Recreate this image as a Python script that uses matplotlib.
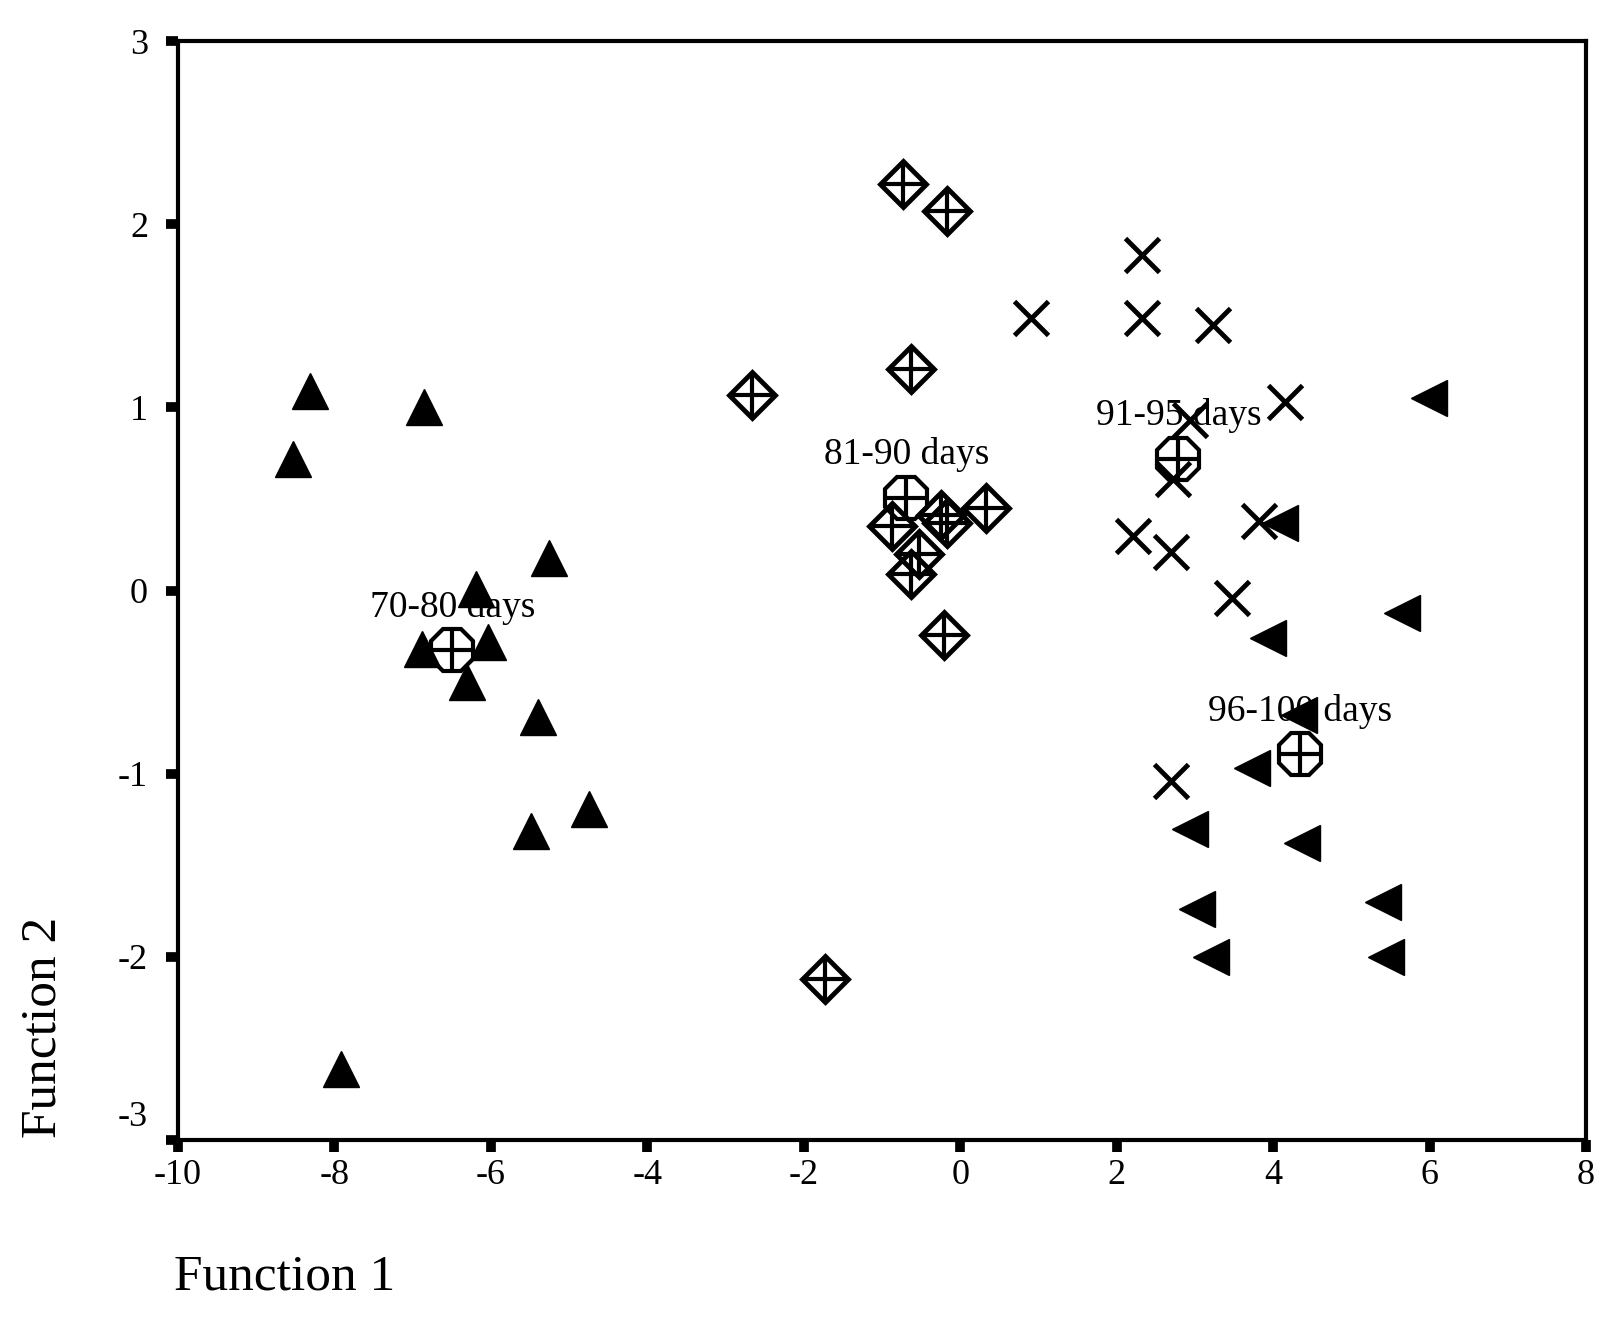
import matplotlib
matplotlib.use('Agg')
import matplotlib.pyplot as plt
import numpy as np
from matplotlib.transforms import ScaledTranslation

plt.rcParams['font.family'] = ['Liberation Serif', 'DejaVu Serif']

# Discriminant scores (Function 1, Function 2)
g70_x = [-8.31, -8.53, -6.85, -5.26, -6.19, -6.88, -6.03, -6.30, -5.40, -5.49, -4.74, -7.91]
g70_y = [1.09, 0.72, 1.00, 0.18, 0.01, -0.32, -0.28, -0.50, -0.69, -1.31, -1.19, -2.61]

g81_x = [-0.73, -0.17, -0.63, -2.66, 0.33, -0.25, -0.17, -0.87, -0.53, -0.63, -0.21, -1.73]
g81_y = [2.22, 2.07, 1.21, 1.07, 0.45, 0.41, 0.37, 0.35, 0.20, 0.09, -0.24, -2.12]

g91_x = [2.32, 2.32, 3.23, 4.15, 2.94, 2.72, 3.82, 2.21, 2.69, 3.47, 2.70, 0.91]
g91_y = [1.83, 1.49, 1.45, 1.03, 0.93, 0.61, 0.38, 0.30, 0.21, -0.04, -1.04, 1.49]

g96_x = [5.65, 3.93, 4.33, 3.73, 2.94, 4.37, 3.03, 5.40, 3.21, 5.44, 5.99, 4.09]
g96_y = [-0.12, -0.26, -0.68, -0.97, -1.30, -1.38, -1.74, -1.70, -2.00, -2.00, 1.05, 0.37]

group_labels = ['70-80 days', '81-90 days', '91-95 days', '96-100 days']
groups = [(g70_x, g70_y), (g81_x, g81_y), (g91_x, g91_y), (g96_x, g96_y)]

x_ticks = [-10, -8, -6, -4, -2, 0, 2, 4, 6, 8]
y_ticks = [-3, -2, -1, 0, 1, 2, 3]

fig = plt.figure(figsize=(16.22, 13.37), dpi=100)
ax = fig.add_axes([0.1097, 0.1473, 0.8681, 0.8220])

# group centroids (white octagon with a cross)
for (gx, gy), lab in zip(groups, group_labels):
    cx, cy = np.mean(gx), np.mean(gy)
    ax.plot(cx, cy, marker='8', ms=32, mfc='white', mec='black', mew=3, ls='none', zorder=1.5)
    ax.plot(cx, cy, marker='+', ms=31, mec='black', mew=3, ls='none', zorder=1.6)
    ax.annotate(lab, (cx, cy), xytext=(0, 31), textcoords='offset points',
                ha='center', va='center', fontsize=27, zorder=1.2)

# group members
ax.plot(g70_x, g70_y, marker='^', ms=26, color='black', ls='none', zorder=2)
ax.plot(g81_x, g81_y, marker='D', ms=23, mfc='none', mec='black', mew=3.5, ls='none', zorder=2)
ax.plot(g81_x, g81_y, marker='+', ms=32, mec='black', mew=3, ls='none', zorder=2)
ax.plot(g91_x, g91_y, marker='x', ms=25, mec='black', mew=3.5, ls='none', zorder=2)
ax.plot(g96_x, g96_y, marker='<', ms=26, color='black', ls='none', zorder=2)

ax.set_xlim(-10, 8)
ax.set_ylim(-3, 3)
ax.set_xticks(x_ticks)
ax.set_yticks(y_ticks)
ax.set_xticklabels([str(t) for t in x_ticks])
ax.set_yticklabels([str(t) for t in y_ticks])

for s in ax.spines.values():
    s.set_linewidth(3)
ax.tick_params(axis='both', direction='out', length=8.5, width=7, labelsize=26)
ax.tick_params(axis='y', pad=13)
ax.tick_params(axis='x', pad=5)

# the -3 label sits a little above its tick in the original
lab_m3 = ax.get_yticklabels()[0]
lab_m3.set_transform(lab_m3.get_transform() + ScaledTranslation(0, 0.27, fig.dpi_scale_trans))

fig.text(174 / 1622, 1 - 1277 / 1337, 'Function 1', ha='left', va='center', fontsize=37)
fig.text(43 / 1622, 1 - 1138 / 1337, 'Function 2', ha='center', va='bottom', rotation=90, fontsize=37)

plt.savefig('out.png', dpi=100)
